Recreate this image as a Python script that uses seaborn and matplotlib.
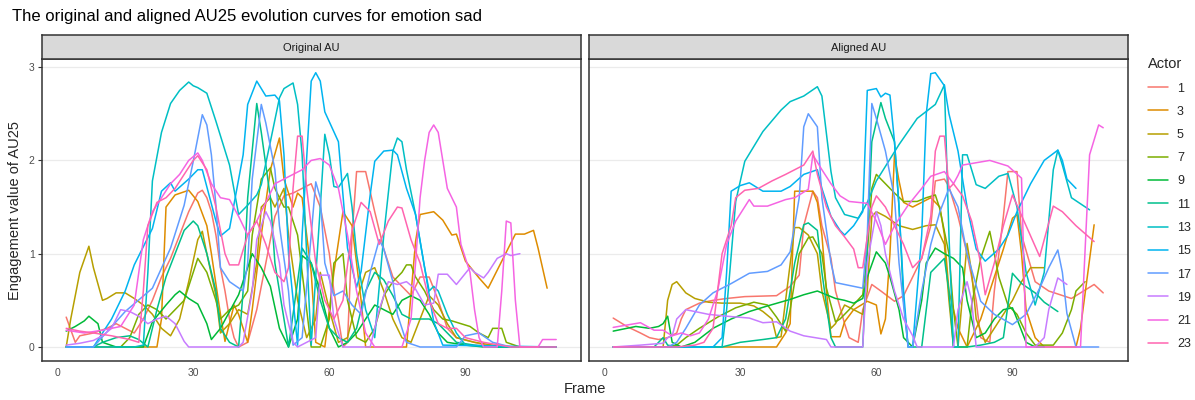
import matplotlib
matplotlib.use('Agg')
from matplotlib import pyplot as plt
from matplotlib.lines import Line2D
import pandas as pd
import seaborn as sns

# actors and ggplot hue colours
actors = [1, 3, 5, 7, 9, 11, 13, 15, 17, 19, 21, 23]
colors = ['#F8766D', '#DE8C00', '#B79F00', '#7CAE00', '#00BA38', '#00C08B',
          '#00BFC4', '#00B4F0', '#619CFF', '#C77CFF', '#F564E3', '#FF64B0']
panels = ['Original AU', 'Aligned AU']

# ---- original AU curves (frame, value) ----
o1_f = [2, 4, 5, 8, 11, 13, 15, 17, 19, 21, 23, 25, 27, 29, 31, 32, 33, 34, 35, 36, 37, 38, 39, 40, 42, 44, 46, 48, 50, 52, 54, 56, 58, 60, 61, 62, 63, 64, 65, 66, 68, 70, 72, 74, 76, 78, 80, 82, 84, 86, 88, 92, 96, 110]
o1_v = [0.32, 0.05, 0.12, 0.15, 0.2, 0.25, 0.2, 0.15, 0.3, 0.5, 0.75, 0.95, 1.2, 1.45, 1.65, 1.68, 1.6, 1.45, 1.2, 0.85, 0.6, 0.3, 0.1, 0.0, 0.05, 0.4, 0.9, 1.4, 1.62, 1.65, 1.7, 1.75, 1.5, 1.0, 0.6, 0.3, 0.0, 0.05, 1.2, 1.88, 1.88, 1.45, 1.05, 0.75, 0.65, 0.55, 0.75, 0.75, 0.5, 0.2, 0.1, 0.05, 0.0, 0.0]
o3_f = [2, 22, 23, 24, 26, 29, 31, 33, 34, 36, 37, 39, 40, 42, 43, 45, 47, 49, 50, 52, 53, 54, 56, 57, 59, 61, 63, 65, 67, 68, 77, 79, 80, 83, 85, 87, 88, 90, 93, 95, 98, 101, 103, 105, 106, 108]
o3_v = [0.0, 0.0, 0.3, 1.5, 1.63, 1.68, 1.56, 1.3, 1.0, 0.35, 0.06, 0.45, 0.35, 0.05, 0.4, 1.2, 1.9, 2.24, 1.8, 1.5, 1.65, 1.6, 0.8, 0.05, 0.0, 0.8, 1.45, 1.3, 0.5, 0.0, 0.0, 1.13, 1.42, 1.45, 1.36, 1.2, 1.21, 0.92, 0.74, 0.63, 0.92, 1.21, 1.21, 1.25, 1.06, 0.63]
o5_f = [2, 3, 5, 7, 8, 10, 11, 13, 15, 17, 19, 21, 23, 25, 27, 29, 31, 32, 33, 35, 36, 38, 40, 42, 44, 45, 47, 48, 50, 51, 53, 55, 57, 58, 60, 62, 64, 66, 68, 70, 72, 74, 76, 78, 80, 82, 84, 86, 88, 92, 96, 100]
o5_v = [0.0, 0.3, 0.8, 1.08, 0.85, 0.5, 0.52, 0.58, 0.58, 0.52, 0.45, 0.35, 0.2, 0.12, 0.3, 0.7, 1.15, 1.24, 1.0, 0.55, 0.15, 0.25, 0.4, 0.35, 0.9, 1.5, 1.6, 1.5, 1.7, 1.2, 0.5, 0.1, 0.3, 0.8, 0.4, 0.05, 0.1, 0.5, 0.8, 0.85, 0.6, 0.3, 0.1, 0.05, 0.3, 0.55, 0.45, 0.25, 0.1, 0.05, 0.02, 0.0]
o7_f = [2, 14, 16, 18, 20, 22, 24, 26, 28, 30, 31, 33, 35, 36, 38, 40, 42, 43, 45, 47, 48, 50, 51, 53, 55, 56, 58, 60, 61, 63, 64, 66, 68, 70, 72, 74, 76, 77, 78, 79, 81, 83, 85, 87, 89, 91, 93, 95, 96, 98, 99, 102]
o7_v = [0.0, 0.0, 0.1, 0.35, 0.45, 0.4, 0.3, 0.4, 0.5, 0.8, 0.95, 0.8, 0.5, 0.3, 0.4, 0.45, 0.6, 1.2, 1.8, 1.92, 1.7, 1.5, 1.5, 1.2, 0.4, 0.0, 0.0, 0.3, 0.9, 1.0, 0.5, 0.1, 0.05, 0.2, 0.55, 0.7, 0.8, 0.88, 0.88, 0.75, 0.6, 0.4, 0.3, 0.28, 0.25, 0.22, 0.15, 0.1, 0.2, 0.2, 0.05, 0.0]
o9_f = [2, 4, 6, 7, 9, 10, 13, 19, 21, 24, 26, 27, 29, 31, 33, 34, 36, 38, 40, 42, 43, 45, 47, 49, 51, 53, 54, 56, 58, 60, 62, 64, 66, 68, 70, 72, 74, 76, 78, 80, 82, 84, 86, 90, 94, 100]
o9_v = [0.17, 0.22, 0.28, 0.33, 0.25, 0.05, 0.0, 0.0, 0.27, 0.45, 0.56, 0.6, 0.52, 0.46, 0.25, 0.08, 0.2, 0.38, 0.56, 0.85, 1.0, 0.85, 0.65, 0.2, 0.0, 0.3, 0.98, 0.9, 0.6, 0.2, 0.0, 0.05, 0.15, 0.3, 0.45, 0.4, 0.35, 0.5, 0.55, 0.5, 0.35, 0.15, 0.05, 0.02, 0.0, 0.0]
o11_f = [2, 8, 10, 13, 16, 18, 20, 22, 24, 26, 28, 30, 31, 33, 35, 36, 38, 40, 41, 42, 44, 45, 47, 48, 50, 51, 53, 54, 56, 58, 60, 62, 64, 66, 68, 70, 72, 74, 76, 78, 80, 82, 84, 86, 88, 92, 96, 100]
o11_v = [0.0, 0.0, 0.05, 0.1, 0.12, 0.08, 0.0, 0.4, 0.75, 1.0, 1.25, 1.35, 1.3, 1.0, 0.6, 0.2, 0.05, 0.0, 0.6, 1.6, 2.61, 2.3, 1.6, 0.9, 0.3, 0.0, 0.7, 1.06, 0.9, 0.5, 0.2, 0.1, 0.05, 0.2, 0.6, 0.8, 0.72, 0.55, 0.35, 0.3, 0.3, 0.3, 0.25, 0.15, 0.05, 0.02, 0.0, 0.0]
o13_f = [2, 17, 19, 20, 21, 23, 25, 27, 29, 30, 31, 33, 35, 38, 40, 42, 44, 45, 47, 49, 50, 52, 53, 54, 55, 56, 58, 59, 60, 61, 62, 64, 65, 66, 68, 70, 72, 74, 75, 76, 77, 79, 81, 82, 83, 84, 86, 88, 90, 100, 110]
o13_v = [0.0, 0.0, 0.02, 0.8, 1.78, 2.3, 2.61, 2.75, 2.84, 2.8, 2.78, 2.72, 2.42, 1.95, 1.42, 1.52, 1.63, 1.74, 2.2, 2.67, 2.77, 2.83, 2.6, 2.06, 1.0, 0.02, 1.5, 2.28, 2.06, 1.72, 1.71, 1.86, 1.5, 1.0, 0.4, 0.1, 1.2, 2.1, 2.24, 2.2, 1.9, 1.42, 0.85, 0.6, 0.65, 0.6, 0.35, 0.15, 0.02, 0.0, 0.0]
o15_f = [2, 8, 12, 15, 17, 21, 23, 25, 26, 29, 31, 32, 35, 36, 38, 41, 42, 44, 46, 48, 49, 50, 51, 53, 54, 56, 57, 58, 59, 62, 63, 64, 66, 67, 69, 70, 72, 74, 75, 77, 79, 81, 83, 85, 110]
o15_v = [0.0, 0.0, 0.3, 0.6, 0.88, 1.27, 1.67, 1.76, 1.67, 1.8, 1.9, 1.9, 1.35, 1.19, 1.27, 2.06, 2.6, 2.85, 2.69, 2.7, 2.64, 2.06, 1.0, 0.02, 1.2, 2.85, 2.94, 2.85, 2.52, 2.2, 1.63, 1.06, 0.64, 0.81, 1.63, 1.99, 2.1, 2.11, 2.06, 1.7, 1.42, 0.85, 0.27, 0.02, 0.0]
o17_f = [2, 8, 15, 21, 25, 28, 30, 32, 33, 34, 35, 36, 38, 41, 42, 43, 45, 46, 48, 49, 51, 52, 54, 56, 57, 58, 59, 61, 63, 65, 67, 69, 71, 72, 74, 75, 77, 80, 88, 90, 93, 96, 100]
o17_v = [0.0, 0.0, 0.38, 0.63, 1.06, 1.52, 1.99, 2.49, 2.38, 2.06, 1.52, 0.85, 0.7, 0.6, 0.9, 1.8, 2.6, 2.4, 1.9, 1.3, 0.6, 0.02, 0.1, 1.2, 1.77, 1.6, 0.9, 0.55, 0.6, 0.45, 0.35, 0.8, 1.15, 1.05, 0.7, 0.35, 0.05, 0.0, 0.0, 0.12, 0.15, 0.05, 0.0]
o19_f = [2, 5, 8, 10, 12, 14, 16, 18, 20, 22, 24, 26, 28, 29, 40, 41, 43, 44, 46, 47, 49, 50, 52, 53, 57, 58, 60, 61, 63, 69, 71, 73, 75, 77, 79, 81, 83, 84, 86, 88, 91, 92, 94, 95, 97, 99, 100, 102]
o19_v = [0.02, 0.04, 0.07, 0.12, 0.2, 0.4, 0.38, 0.33, 0.25, 0.3, 0.33, 0.25, 0.06, 0.0, 0.0, 0.05, 0.6, 1.15, 1.45, 1.35, 0.9, 0.45, 0.05, 0.0, 0.1, 0.77, 0.77, 0.3, 0.0, 0.0, 0.4, 0.7, 0.67, 0.7, 0.62, 0.45, 0.47, 0.78, 0.78, 0.67, 0.85, 0.8, 0.74, 0.8, 0.95, 1.0, 0.98, 1.0]
o21_f = [2, 6, 10, 14, 17, 19, 21, 23, 25, 27, 29, 31, 32, 34, 36, 38, 40, 42, 44, 46, 48, 50, 52, 54, 56, 58, 60, 62, 64, 66, 68, 70, 76, 78, 79, 80, 81, 82, 83, 84, 85, 86, 88, 89, 91, 92, 93, 94, 97, 98, 99, 100, 101, 102, 106, 107, 110]
o21_v = [0.18, 0.15, 0.18, 0.22, 0.45, 1.15, 1.45, 1.6, 1.75, 1.85, 2.0, 2.08, 2.0, 1.75, 1.6, 1.58, 1.4, 1.2, 1.35, 1.55, 1.75, 1.8, 1.85, 1.9, 2.0, 2.02, 1.95, 1.7, 1.2, 0.6, 0.15, 0.0, 0.0, 0.3, 0.9, 1.6, 2.0, 2.3, 2.38, 2.3, 2.0, 1.7, 1.5, 1.1, 0.8, 0.4, 0.1, 0.0, 0.0, 0.6, 1.35, 1.33, 0.5, 0.0, 0.0, 0.08, 0.08]
o23_f = [2, 5, 8, 12, 16, 18, 19, 20, 22, 24, 26, 28, 30, 31, 33, 35, 37, 38, 40, 42, 44, 46, 48, 50, 51, 52, 53, 54, 55, 57, 59, 61, 63, 65, 67, 69, 71, 73, 75, 76, 78, 80, 82, 84, 86, 88, 90, 94, 100, 110]
o23_v = [0.2, 0.17, 0.15, 0.12, 0.08, 0.05, 0.6, 1.3, 1.55, 1.6, 1.7, 1.85, 2.0, 2.05, 1.9, 1.5, 1.0, 0.88, 0.88, 1.2, 1.35, 1.1, 0.8, 0.7, 0.85, 1.7, 2.26, 2.26, 1.7, 0.9, 0.5, 0.3, 0.5, 1.25, 1.55, 1.45, 1.1, 1.35, 1.5, 1.49, 1.15, 0.9, 0.5, 0.25, 0.2, 0.2, 0.1, 0.05, 0.0, 0.0]

# ---- aligned AU curves (frame, value) ----
a1_f = [2, 5, 8, 10, 12, 14, 16, 17, 18, 21, 24, 27, 31, 38, 41, 43, 44, 46, 47, 48, 50, 51, 53, 54, 56, 57, 59, 61, 64, 66, 68, 70, 72, 73, 75, 76, 78, 80, 82, 83, 85, 86, 88, 89, 91, 92, 95, 98, 103, 105, 108, 110]
a1_v = [0.31, 0.22, 0.15, 0.1, 0.08, 0.1, 0.15, 0.3, 0.4, 0.47, 0.5, 0.52, 0.54, 0.55, 0.65, 0.77, 1.3, 1.67, 1.6, 1.3, 0.95, 0.6, 0.25, 0.1, 0.05, 0.4, 0.67, 0.6, 0.49, 0.55, 0.75, 0.95, 1.3, 1.78, 1.8, 1.72, 1.4, 1.0, 0.5, 0.1, 0.05, 0.6, 1.4, 1.88, 1.88, 1.2, 0.7, 0.6, 0.52, 0.58, 0.67, 0.58]
a3_f = [2, 38, 40, 41, 42, 46, 47, 48, 49, 50, 52, 53, 55, 58, 60, 61, 62, 63, 64, 65, 66, 68, 70, 72, 74, 75, 76, 78, 80, 83, 86, 88, 90, 91, 92, 93, 95, 97, 104, 105, 108]
a3_v = [0.0, 0.0, 0.15, 0.25, 1.67, 1.67, 1.55, 1.2, 0.6, 0.11, 0.11, 0.27, 0.4, 0.49, 0.45, 0.14, 0.3, 1.0, 2.06, 1.78, 1.55, 1.5, 1.55, 1.6, 1.5, 1.2, 0.6, 0.2, 0.0, 0.3, 0.75, 1.05, 1.38, 1.42, 1.0, 0.4, 0.1, 0.0, 0.0, 0.2, 1.31]
a5_f = [2, 13, 14, 15, 16, 18, 20, 23, 26, 30, 33, 35, 37, 38, 39, 40, 42, 43, 45, 47, 48, 50, 51, 53, 55, 57, 58, 59, 60, 62, 65, 68, 71, 73, 75, 76, 77, 78, 80, 81, 82, 84, 86, 88, 90, 92, 94, 97]
a5_v = [0.0, 0.0, 0.5, 0.67, 0.7, 0.58, 0.52, 0.48, 0.47, 0.47, 0.44, 0.38, 0.3, 0.1, 0.11, 0.5, 1.28, 1.28, 1.2, 1.0, 0.6, 0.2, 0.25, 0.45, 0.4, 0.35, 0.6, 1.4, 1.45, 1.4, 1.3, 1.26, 1.3, 1.31, 1.1, 0.5, 0.0, 0.0, 1.11, 0.8, 0.3, 0.05, 0.2, 0.35, 0.5, 0.7, 0.85, 0.85]
a7_f = [2, 14, 16, 18, 21, 25, 29, 33, 36, 38, 40, 41, 43, 45, 46, 48, 49, 51, 52, 54, 57, 58, 59, 60, 62, 64, 66, 69, 71, 73, 74, 76, 77, 78, 80, 81, 83, 85, 86, 87, 89, 91, 93, 95, 99, 101, 103, 104, 106]
a7_v = [0.0, 0.0, 0.02, 0.1, 0.2, 0.32, 0.42, 0.48, 0.45, 0.32, 0.17, 0.4, 1.0, 1.17, 1.18, 1.0, 0.63, 0.27, 0.3, 0.4, 0.56, 1.0, 1.7, 1.85, 1.75, 1.65, 1.56, 1.56, 1.6, 1.63, 1.48, 1.0, 0.4, 0.0, 0.0, 0.45, 0.95, 1.24, 1.0, 0.75, 0.45, 0.35, 0.15, 0.02, 0.02, 0.15, 0.4, 0.6, 0.7]
a9_f = [2, 7, 10, 12, 13, 14, 15, 17, 20, 24, 28, 32, 36, 41, 44, 47, 49, 51, 53, 55, 57, 58, 60, 62, 63, 65, 66, 68, 70, 71, 73, 75, 77, 79, 80, 82, 84, 86, 88, 90, 91, 93, 95, 97]
a9_v = [0.17, 0.22, 0.2, 0.22, 0.25, 0.33, 0.05, 0.0, 0.05, 0.2, 0.3, 0.38, 0.44, 0.51, 0.56, 0.6, 0.56, 0.52, 0.5, 0.47, 0.52, 0.75, 1.02, 0.9, 0.75, 0.4, 0.1, 0.0, 0.5, 0.9, 1.06, 1.0, 0.95, 0.85, 0.5, 0.1, 0.15, 0.3, 0.4, 0.42, 0.3, 0.05, 0.0, 0.0]
a11_f = [2, 11, 12, 13, 14, 16, 26, 30, 35, 38, 40, 42, 44, 45, 47, 48, 50, 51, 57, 59, 61, 62, 64, 65, 66, 67, 70, 72, 75, 76, 77, 80, 83, 86, 88, 90, 92, 95, 97, 100]
a11_v = [0.0, 0.0, 0.05, 0.1, 0.02, 0.0, 0.0, 0.05, 0.08, 0.1, 0.3, 0.9, 1.31, 1.33, 1.25, 0.8, 0.1, 0.0, 0.0, 2.2, 2.62, 2.45, 2.2, 1.5, 0.5, 0.0, 0.0, 0.8, 0.95, 0.6, 0.0, 0.0, 0.02, 0.05, 0.1, 0.79, 0.68, 0.58, 0.48, 0.38]
a13_f = [2, 26, 27, 29, 31, 35, 39, 41, 44, 47, 48, 50, 51, 53, 56, 58, 60, 65, 69, 73, 75, 76, 77, 78, 79, 80, 82, 84, 87, 89, 91, 93, 95, 97, 99, 100, 101, 103, 107]
a13_v = [0.0, 0.0, 0.4, 1.56, 1.99, 2.31, 2.54, 2.63, 2.69, 2.79, 2.69, 1.88, 1.6, 1.42, 1.38, 1.55, 1.78, 2.17, 2.45, 2.6, 2.81, 1.2, 0.0, 0.0, 2.06, 2.06, 1.74, 1.7, 1.83, 1.86, 1.5, 0.8, 0.45, 0.8, 1.9, 2.11, 1.95, 1.6, 1.47]
a15_f = [2, 24, 26, 27, 28, 30, 32, 35, 39, 41, 44, 47, 48, 50, 52, 53, 55, 57, 58, 60, 61, 62, 63, 64, 65, 66, 67, 68, 70, 71, 72, 73, 75, 76, 77, 78, 80, 82, 84, 87, 89, 91, 94, 97, 100, 101, 102, 104]
a15_v = [0.0, 0.0, 0.1, 0.8, 1.67, 1.73, 1.76, 1.67, 1.67, 1.72, 1.85, 1.9, 1.7, 1.4, 1.25, 1.2, 1.3, 1.45, 2.75, 2.77, 2.68, 2.72, 2.7, 2.2, 1.5, 0.6, 0.0, 0.0, 1.2, 2.5, 2.93, 2.94, 2.8, 2.5, 2.3, 2.1, 1.5, 1.05, 0.92, 1.05, 1.2, 1.45, 1.75, 2.0, 2.11, 2.0, 1.8, 1.7]
a17_f = [2, 14, 16, 18, 21, 24, 28, 32, 36, 39, 41, 43, 44, 45, 47, 48, 50, 51, 53, 57, 58, 59, 60, 62, 64, 65, 67, 68, 70, 72, 74, 76, 78, 80, 83, 86, 90, 93, 96, 98, 100, 101, 102, 104, 109]
a17_v = [0.0, 0.0, 0.05, 0.2, 0.45, 0.58, 0.68, 0.79, 0.81, 0.88, 1.02, 1.6, 2.36, 2.5, 2.36, 1.6, 0.9, 0.69, 0.67, 0.63, 1.2, 2.61, 2.45, 2.1, 1.6, 0.9, 0.0, 0.0, 0.6, 1.1, 1.45, 1.7, 1.5, 1.0, 0.49, 0.35, 0.24, 0.35, 0.63, 0.85, 1.04, 0.8, 0.36, 0.0, 0.0]
a19_f = [2, 8, 13, 14, 15, 16, 18, 20, 23, 27, 32, 35, 38, 41, 44, 49, 50, 57, 58, 60, 61, 62, 64, 66, 68, 69, 77, 78, 80, 81, 82, 95, 97, 98, 100, 102]
a19_v = [0.0, 0.02, 0.04, 0.1, 0.12, 0.3, 0.4, 0.38, 0.35, 0.33, 0.31, 0.26, 0.27, 0.17, 0.12, 0.08, 0.0, 0.0, 0.9, 1.45, 1.3, 1.0, 0.6, 0.3, 0.12, 0.0, 0.0, 0.4, 0.7, 0.5, 0.0, 0.0, 0.1, 0.4, 0.74, 0.67]
a21_f = [2, 8, 11, 13, 15, 17, 19, 21, 23, 25, 27, 29, 32, 33, 36, 40, 42, 45, 46, 48, 50, 52, 54, 58, 60, 62, 64, 67, 70, 72, 75, 77, 78, 79, 85, 89, 92, 93, 105, 107, 109, 110]
a21_v = [0.21, 0.26, 0.18, 0.18, 0.12, 0.15, 0.12, 0.15, 0.3, 0.6, 1.1, 1.35, 1.58, 1.51, 1.51, 1.58, 1.6, 1.69, 2.06, 1.9, 1.75, 1.62, 1.56, 1.54, 1.35, 1.1, 1.3, 1.52, 1.7, 1.83, 1.88, 1.75, 1.84, 1.95, 2.0, 1.94, 1.81, 0.0, 0.0, 2.06, 2.38, 2.35]
a23_f = [2, 16, 20, 22, 24, 25, 26, 28, 29, 31, 34, 37, 40, 42, 44, 46, 47, 49, 51, 53, 55, 56, 57, 59, 60, 62, 64, 66, 68, 70, 72, 73, 74, 75, 76, 77, 79, 81, 83, 84, 86, 88, 90, 93, 96, 99, 101, 104, 108]
a23_v = [0.0, 0.0, 0.02, 0.05, 0.2, 0.6, 1.0, 1.3, 1.6, 1.68, 1.7, 1.78, 1.85, 1.9, 1.95, 2.1, 1.85, 1.5, 1.3, 1.18, 1.05, 0.85, 0.85, 1.5, 1.62, 1.5, 1.3, 1.1, 0.85, 0.95, 1.4, 2.1, 2.26, 2.26, 1.7, 1.75, 1.62, 1.35, 0.9, 0.56, 0.9, 1.3, 1.63, 1.3, 0.97, 1.51, 1.45, 1.3, 1.13]

original = [(o1_f, o1_v), (o3_f, o3_v), (o5_f, o5_v), (o7_f, o7_v), (o9_f, o9_v), (o11_f, o11_v),
            (o13_f, o13_v), (o15_f, o15_v), (o17_f, o17_v), (o19_f, o19_v), (o21_f, o21_v), (o23_f, o23_v)]
aligned = [(a1_f, a1_v), (a3_f, a3_v), (a5_f, a5_v), (a7_f, a7_v), (a9_f, a9_v), (a11_f, a11_v),
           (a13_f, a13_v), (a15_f, a15_v), (a17_f, a17_v), (a19_f, a19_v), (a21_f, a21_v), (a23_f, a23_v)]


def long_df(series):
    frames = []
    for actor, (f, v) in zip(actors, series):
        frames.append(pd.DataFrame({'Frame': f, 'value': v, 'Actor': str(actor)}))
    return pd.concat(frames, ignore_index=True)


sns.set_style('white')
plt.rcParams['font.family'] = ['Liberation Sans', 'DejaVu Sans']

W, H = 1195, 400
fig = plt.figure(figsize=(W / 100, H / 100), dpi=100)
pal = dict(zip([str(a) for a in actors], colors))

pw, ph = 539, 301.7
lefts = [41.7, 588.7]
for i, (name, series) in enumerate(zip(panels, [original, aligned])):
    ax = fig.add_axes([lefts[i] / W, (H - 360.7) / H, pw / W, ph / H])
    sns.lineplot(data=long_df(series), x='Frame', y='value', hue='Actor', palette=pal,
                 estimator=None, legend=False, lw=1.1, ax=ax)
    ax.set_xlim(-3.4, 115.4)
    ax.set_ylim(-0.147, 3.087)
    ax.set_xticks([0, 30, 60, 90])
    ax.set_yticks([0, 1, 2, 3])
    ax.grid(axis='y', color='#EBEBEB', lw=0.9)
    ax.set_axisbelow(True)
    ax.set_xlabel('')
    ax.set_ylabel('')
    for s in ax.spines.values():
        s.set_color('#333333')
        s.set_linewidth(1.1)
    ax.tick_params(axis='x', length=3, width=0.8, color='#333333', labelsize=7.5,
                   labelcolor='#4D4D4D', pad=2)
    if i == 0:
        ax.tick_params(axis='y', length=3, width=0.8, color='#333333', labelsize=7.5,
                       labelcolor='#4D4D4D', pad=2, left=True)
    else:
        ax.tick_params(axis='y', left=False, labelleft=False)

    # facet strip
    st = fig.add_axes([lefts[i] / W, (H - 59) / H, pw / W, 24 / H])
    st.set_facecolor('#D9D9D9')
    st.set_xticks([])
    st.set_yticks([])
    for s in st.spines.values():
        s.set_color('#333333')
        s.set_linewidth(1.1)
    st.text(0.5, 0.45, name, ha='center', va='center', fontsize=8, color='#1A1A1A',
            transform=st.transAxes)

fig.text(12 / W, 1 - 17 / H, 'The original and aligned AU25 evolution curves for emotion sad',
         ha='left', va='center', fontsize=12, color='black')
fig.text(585 / W, 1 - 389 / H, 'Frame', ha='center', va='center', fontsize=10.5)
fig.text(15 / W, 1 - 211 / H, 'Engagement value of AU25', ha='center', va='center',
         rotation=90, fontsize=10.5)

handles = [Line2D([0], [0], color=c, lw=1.1) for c in colors]
fig.legend(handles, [str(a) for a in actors], loc='upper left',
           bbox_to_anchor=(1142 / W, 1 - 51 / H), frameon=False, title='Actor',
           fontsize=9, title_fontsize=10.5, handlelength=1.6, handletextpad=0.7,
           labelspacing=0.9, alignment='left', borderaxespad=0, borderpad=0.5)

fig.savefig('out.png', dpi=100)
